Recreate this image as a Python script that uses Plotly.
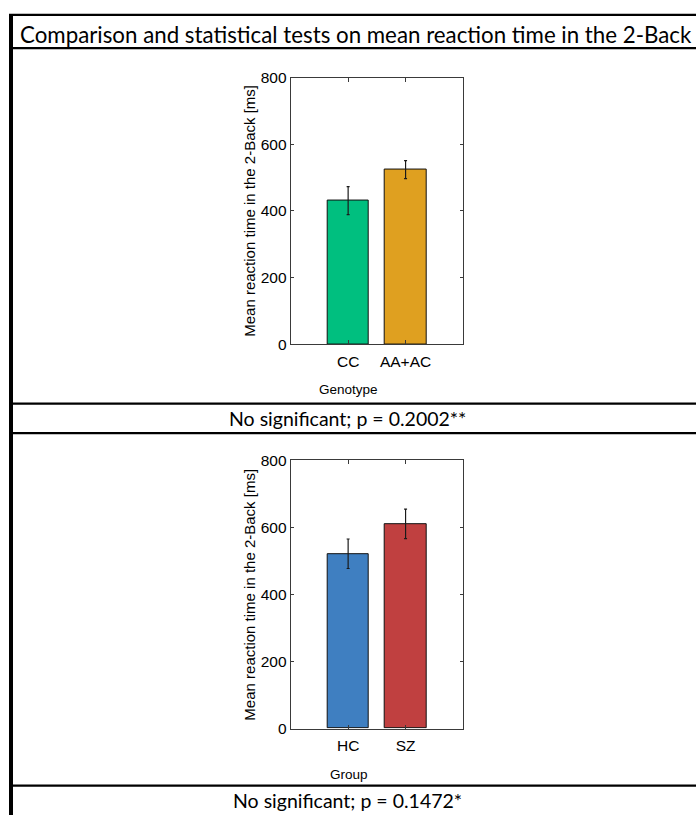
import plotly.graph_objects as go

# Mean 2-Back reaction time (ms) with error bars, by genotype and by group
genotype_labels = ["CC", "AA+AC"]
genotype_means = [431, 524]
genotype_errors = [42, 27]

group_labels = ["HC", "SZ"]
group_means = [521, 610]
group_errors = [44, 44]

y_ticks = [0, 200, 400, 600, 800]

title_text = "Comparison and statistical tests on mean reaction time in the 2-Back"
caption_genotype = "No significant; p = 0.2002**"
caption_group = "No significant; p = 0.1472*"
y_title = "Mean reaction time in the 2-Back [ms]"

W, H = 696, 823


def fx(px):
    return px / W


def fy(py):
    return 1 - py / H


AXIS_COLOR = "#3a3a3a"
SANS = "Liberation Sans, Arial, sans-serif"
CAPTION_FONT = "Lato, Carlito, Calibri, sans-serif"

fig = go.Figure()

panels = [
    (genotype_labels, genotype_means, genotype_errors, ["#00BF7F", "#DFA020"], "x", "y"),
    (group_labels, group_means, group_errors, ["#3F7FC1", "#C04040"], "x2", "y2"),
]
for labels, means, errs, colors, xa, ya in panels:
    fig.add_trace(go.Bar(
        x=labels, y=means, width=0.72,
        marker=dict(color=colors, line=dict(color="#111", width=1)),
        error_y=dict(type="data", array=errs, color="#1a1a1a", thickness=1.2, width=1.5),
        xaxis=xa, yaxis=ya, showlegend=False, hoverinfo="skip",
    ))

ax_x = [fx(290.7), fx(463)]
common_x = dict(domain=ax_x, range=[-1, 2], type="category", showline=True, linecolor=AXIS_COLOR,
                linewidth=1, mirror="ticks", ticks="inside", ticklen=4, tickcolor=AXIS_COLOR,
                tickfont=dict(family=SANS, size=15.5, color="#000"), ticklabelstandoff=3,
                showgrid=False, zeroline=False, fixedrange=True)
common_y = dict(range=[0, 800], tickvals=y_ticks, showline=True, linecolor=AXIS_COLOR,
                linewidth=1, mirror="ticks", ticks="inside", ticklen=3, tickcolor=AXIS_COLOR,
                tickfont=dict(family=SANS, size=15.5, color="#000"),
                showgrid=False, zeroline=False, fixedrange=True)

fig.update_layout(
    width=W, height=H, autosize=False,
    margin=dict(l=0, r=0, t=0, b=0, pad=0),
    paper_bgcolor="white", plot_bgcolor="white",
    bargap=0,
    xaxis=dict(common_x, anchor="y"),
    yaxis=dict(common_y, domain=[fy(342.3), fy(70)], anchor="x"),
    xaxis2=dict(common_x, anchor="y2"),
    yaxis2=dict(common_y, domain=[fy(734.7), fy(460.7)], anchor="x2"),
)

# Table rules
shapes = []
for yline in [6, 40, 403, 433, 793]:
    shapes.append(dict(type="line", xref="paper", yref="paper", x0=fx(9), x1=1,
                       y0=fy(yline), y1=fy(yline), line=dict(color="#000", width=2.2)))
shapes.append(dict(type="line", xref="paper", yref="paper", x0=fx(11), x1=fx(11),
                   y0=fy(5), y1=0, line=dict(color="#000", width=4)))
fig.update_layout(shapes=shapes)

annotations = [
    dict(text=title_text, x=fx(18), y=fy(26), xanchor="left", yanchor="middle",
         font=dict(family=CAPTION_FONT, size=22.3, color="#000")),
    dict(text=caption_genotype, x=fx(347.5), y=fy(418), xanchor="center", yanchor="middle",
         font=dict(family=CAPTION_FONT, size=19.5, color="#000")),
    dict(text=caption_group, x=fx(347.5), y=fy(808), xanchor="center", yanchor="middle",
         font=dict(family=CAPTION_FONT, size=19.5, color="#000")),
    dict(text=y_title, x=fx(250), y=fy(206), textangle=-90, xanchor="center", yanchor="middle",
         font=dict(family=SANS, size=15, color="#000")),
    dict(text=y_title, x=fx(250), y=fy(598), textangle=-90, xanchor="center", yanchor="middle",
         font=dict(family=SANS, size=15, color="#000")),
    dict(text="Genotype", x=fx(348.5), y=fy(389), xanchor="center", yanchor="middle",
         font=dict(family=SANS, size=13.5, color="#000")),
    dict(text="Group", x=fx(348.5), y=fy(782), xanchor="center", yanchor="middle",
         font=dict(family=SANS, size=13.5, color="#000")),
]
for a in annotations:
    a.update(xref="paper", yref="paper", showarrow=False)
fig.update_layout(annotations=annotations)

fig.write_html("out.html", config={"displayModeBar": False})
